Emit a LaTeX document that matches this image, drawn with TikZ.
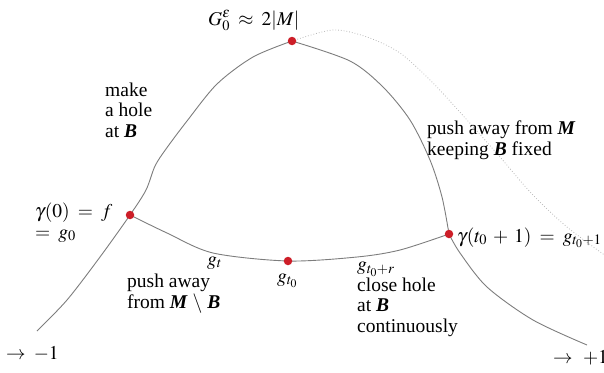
\documentclass[tikz,border=0pt]{standalone}
\usepackage{amsmath}
\usepackage{mathptmx}
\usepackage[no-math]{fontspec}
\setmainfont{Liberation Serif}
\newfontfamily\lserif{Liberation Serif}
\definecolor{curvegray}{RGB}{125,125,125}
\definecolor{dotgray}{RGB}{185,185,185}
\definecolor{dotred}{RGB}{205,30,40}
\newcommand{\bM}{\textbf{\textit{M}}}
\newcommand{\bB}{\textbf{\textit{B}}}
\thickmuskip=7.5mu plus 2mu\relax
\medmuskip=5.5mu plus 2mu\relax
\begin{document}
\begin{tikzpicture}[x=1pt,y=-1pt,
  lbl/.style={font=\lserif\fontsize{19.5}{20.5}\selectfont, inner sep=0pt, anchor=base west, align=left},
  curve/.style={draw=curvegray, line width=0.9pt},
  faint/.style={draw=dotgray, line width=0.8pt, dotted},
  pt/.style={circle, fill=dotred, inner sep=0pt, minimum size=8.5pt}]
\useasboundingbox (0,0) rectangle (604,372);
% points
\coordinate (top) at (292,41);
\coordinate (left) at (130,215);
\coordinate (mid) at (288,261);
\coordinate (right) at (449,234);
\coordinate (lend) at (37,331);
\coordinate (rend) at (587,345);
\coordinate (fend) at (610,259);
% curves
\draw[curve] plot[smooth, tension=0.5] coordinates {(lend) (67,300) (100,257) (left) (146,190) (155,166) (166,149) (187,121) (217,84) (253,57) (top)};
\draw[curve] plot[smooth, tension=0.5] coordinates {(top) (350,61) (383,87) (410,120) (430,160) (442,197) (right)};
\draw[curve] plot[smooth, tension=0.5] coordinates {(right) (460,253) (487,287) (533,320) (rend)};
\draw[curve] plot[smooth, tension=0.5] coordinates {(left) (167,233) (213,253) (mid) (357,257) (400,250) (right)};
\draw[faint] plot[smooth, tension=0.5] coordinates {(top) (333,30) (367,37) (400,53) (433,83) (467,120) (500,157) (532,194) (567,227) (fend)};
\node[pt] (ntop) at (top) {};
\node[pt] (nleft) at (left) {};
\node[pt] (nmid) at (mid) {};
\node[pt] (nright) at (right) {};
% labels (multi-line nodes are placed by the baseline of their last line)
\node[lbl] (lG) at (208,25) {$G_0^{\varepsilon}\approx 2|M|$};
\node[lbl] (lhole) at (105,137) {make\\a hole\\at \bB};
\node[lbl] (lpush) at (427,155) {push away from \bM\\keeping \bB\ fixed};
\node[lbl] (lgam) at (35,238) {$\gamma(0)=f$\\$=g_0$};
\node[lbl] (lgt) at (207,265) {$g_t$};
\node[lbl] (lgt0) at (277,282) {$g_{t_0}$};
\node[lbl] (lpush2) at (127,308) {push away\\from \bM\ $\setminus$ \bB};
\node[lbl] (lclose) at (357,332) {$g_{t_0+r}$\\close hole\\at \bB\\continuously};
\node[lbl] (lgam1) at (457,242) {$\gamma(t_0+1)=g_{t_0+1}$};
\node[lbl] (lm1) at (6,359) {$\to -1$};
\node[lbl] (lp1) at (553,363) {$\to\mskip2mu{+}1$};
\end{tikzpicture}
\end{document}
